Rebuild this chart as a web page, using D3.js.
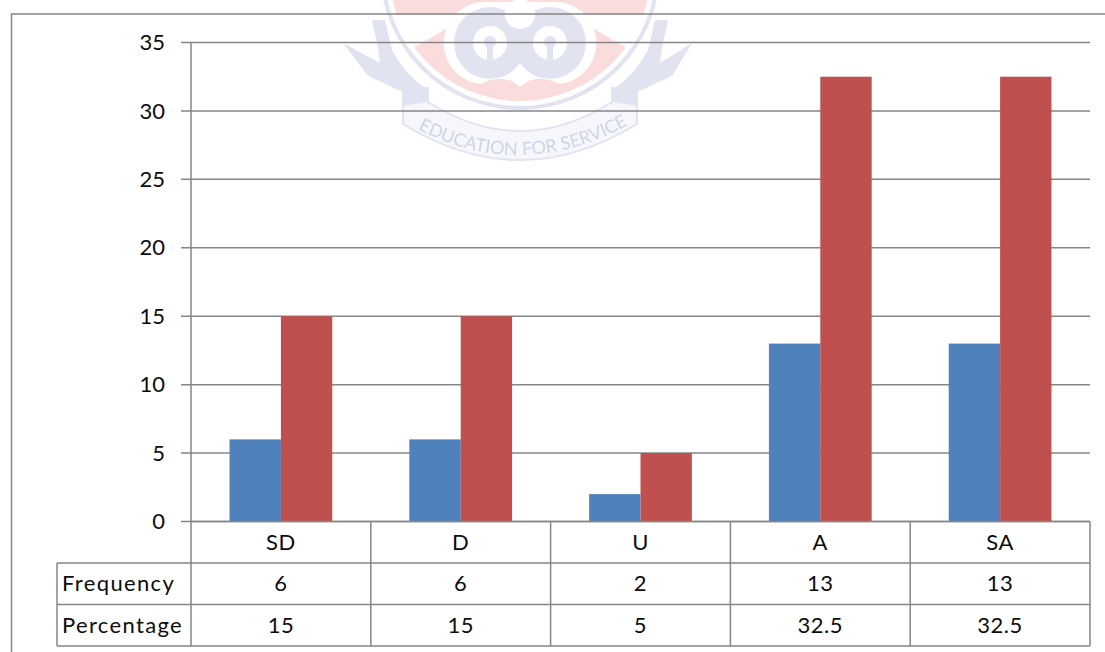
<!DOCTYPE html>
<html>
<head>
<meta charset="utf-8">
<script src="https://cdnjs.cloudflare.com/ajax/libs/d3/7.8.5/d3.min.js"></script>
<style>
html,body{margin:0;padding:0;background:#fff;overflow:hidden}
svg{display:block}
text{font-family:Lato,"Open Sans",sans-serif;fill:#0c0c0c}
</style>
</head>
<body>
<svg id="chart" width="1105" height="652"></svg>
<script>
const categories = ["SD", "D", "U", "A", "SA"];
const frequency = [6, 6, 2, 13, 13];
const percentage = [15, 15, 5, 32.5, 32.5];
const seriesNames = ["Frequency", "Percentage"];
const seriesColors = ["#4f81bd", "#c0504d"];
const yTicks = [0, 5, 10, 15, 20, 25, 30, 35];

const svg = d3.select("#chart");
const plot = {left: 191, right: 1090, top: 42.5, bottom: 521.5};
const rowY = [521.5, 563, 604.5, 646];
const tableLeft = 57;
const grey = "#868686";
const fontSize = 22;

const y = d3.scaleLinear().domain([0, 35]).range([plot.bottom, plot.top]);
const x0 = d3.scaleBand().domain(categories).range([plot.left, plot.right]);
const x1 = d3.scaleBand().domain(seriesNames).range([0, x0.bandwidth()])
  .paddingInner(0).paddingOuter(0.75);

// Crest sitting faintly behind the plot
svg.append("defs").append("filter").attr("id", "soft")
  .append("feGaussianBlur").attr("stdDeviation", 0.7);
const crest = svg.append("g").attr("class", "crest").attr("filter", "url(#soft)");
const pale = "#e1e3f0", pink = "#fbdcdc";
const cx = 520, cy = -30;

// Ribbon: two solid tails joined by a lighter motto band
crest.append("path")
  .attr("d", "M403,92 L403,124 Q520,196 637,124 L637,92 L612,88 L612,102 Q520,160 428,102 L428,88 Z")
  .attr("fill", "#f6f7fb").attr("stroke", pale).attr("stroke-width", 2);
crest.append("path")
  .attr("d", "M343,43 L380,63 L378,48 L372,20 L385,20 L392,50 Q405,75 428,90 L428,102 L403,106 L403,92 L368,76 Z")
  .attr("fill", pale);
crest.append("path")
  .attr("d", "M692,43 L660,63 L662,48 L668,20 L655,20 L648,50 Q635,75 612,90 L612,102 L637,106 L637,92 L672,76 Z")
  .attr("fill", pale);

// Rings and red disc
crest.append("circle").attr("cx", cx).attr("cy", cy).attr("r", 140).attr("fill", pale);
crest.append("circle").attr("cx", cx).attr("cy", cy).attr("r", 136).attr("fill", "#fff");
crest.append("circle").attr("cx", cx).attr("cy", cy).attr("r", 131).attr("fill", pink);

// White star points on the disc
crest.append("path")
  .attr("d", "M393,15 L470,15 L413,48 Z M647,15 L570,15 L627,48 Z")
  .attr("fill", "#fff");

// Interlocked knot in the centre
crest.append("path")
  .attr("d", "M520,87 Q505,72 480,84 A41,41 0 1 1 490,2 L550,2 A41,41 0 1 1 560,84 Q535,72 520,87 Z")
  .attr("fill", "#fff");
[[490, 43], [550, 43]].forEach(([kx, ky]) => {
  crest.append("circle").attr("cx", kx).attr("cy", ky).attr("r", 36).attr("fill", pale);
});
[[490, 43], [550, 43]].forEach(([kx, ky]) => {
  crest.append("circle").attr("cx", kx).attr("cy", ky).attr("r", 17).attr("fill", "#fff");
  crest.append("circle").attr("cx", kx).attr("cy", ky - 1).attr("r", 6).attr("fill", pale);
  crest.append("rect").attr("x", kx - 3).attr("y", ky).attr("width", 6).attr("height", 18).attr("fill", pale);
});
crest.append("circle").attr("cx", cx).attr("cy", 14).attr("r", 15).attr("fill", "#fff");

// Motto lettered along the band
crest.append("path").attr("id", "mottoArc")
  .attr("d", "M416,128 Q520,184 630,124")
  .attr("fill", "none");
crest.append("text")
  .attr("font-size", 18)
  .style("fill", "#d0d3e6")
  .append("textPath")
  .attr("href", "#mottoArc")
  .attr("startOffset", "50%")
  .attr("text-anchor", "middle")
  .text("EDUCATION FOR SERVICE");

// Outer chart frame
svg.append("path")
  .attr("d", "M11.5,660 V14 H1105")
  .attr("fill", "none").attr("stroke", grey).attr("stroke-width", 1.5);

// Horizontal gridlines with their outside tick stubs
svg.append("g").selectAll("line").data(yTicks).join("line")
  .attr("x1", plot.left - 10).attr("x2", plot.right)
  .attr("y1", d => y(d)).attr("y2", d => y(d))
  .attr("stroke", grey).attr("stroke-width", 1.5);

// Grouped bars
const seriesValues = [frequency, percentage];
seriesNames.forEach((name, s) => {
  svg.append("g").selectAll("rect").data(categories).join("rect")
    .attr("x", c => x0(c) + x1(name))
    .attr("width", x1.bandwidth())
    .attr("y", (c, i) => y(seriesValues[s][i]))
    .attr("height", (c, i) => y(0) - y(seriesValues[s][i]))
    .attr("fill", seriesColors[s]);
});

// Value axis labels
svg.append("g").selectAll("text").data(yTicks).join("text")
  .attr("x", 165).attr("y", d => y(d))
  .attr("dy", "0.35em").attr("text-anchor", "end")
  .attr("font-size", fontSize).text(d => d);

// Data table under the plot
const table = svg.append("g").attr("stroke", grey).attr("stroke-width", 1.5);
table.append("line").attr("x1", plot.left).attr("x2", plot.left).attr("y1", plot.top).attr("y2", rowY[3]);
categories.forEach(c => {
  const right = x0(c) + x0.bandwidth();
  table.append("line").attr("x1", right).attr("x2", right).attr("y1", rowY[0]).attr("y2", rowY[3]);
});
table.append("line").attr("x1", tableLeft).attr("x2", tableLeft).attr("y1", rowY[1]).attr("y2", rowY[3]);
rowY.forEach((ry, i) => {
  table.append("line")
    .attr("x1", i === 0 ? plot.left : tableLeft).attr("x2", plot.right)
    .attr("y1", ry).attr("y2", ry);
});

const rowCentre = i => (rowY[i] + rowY[i + 1]) / 2;
const cellRows = [categories, frequency, percentage];
cellRows.forEach((row, r) => {
  svg.append("g").selectAll("text").data(row).join("text")
    .attr("x", (d, i) => x0(categories[i]) + x0.bandwidth() / 2)
    .attr("y", rowCentre(r))
    .attr("dy", "0.35em").attr("text-anchor", "middle")
    .attr("letter-spacing", 0.5)
    .attr("font-size", fontSize).text(d => d);
});
seriesNames.forEach((name, i) => {
  svg.append("text")
    .attr("x", 62).attr("y", rowCentre(i + 1))
    .attr("dy", "0.35em").attr("font-size", fontSize)
    .attr("letter-spacing", 1.35).text(name);
});
</script>
</body>
</html>
